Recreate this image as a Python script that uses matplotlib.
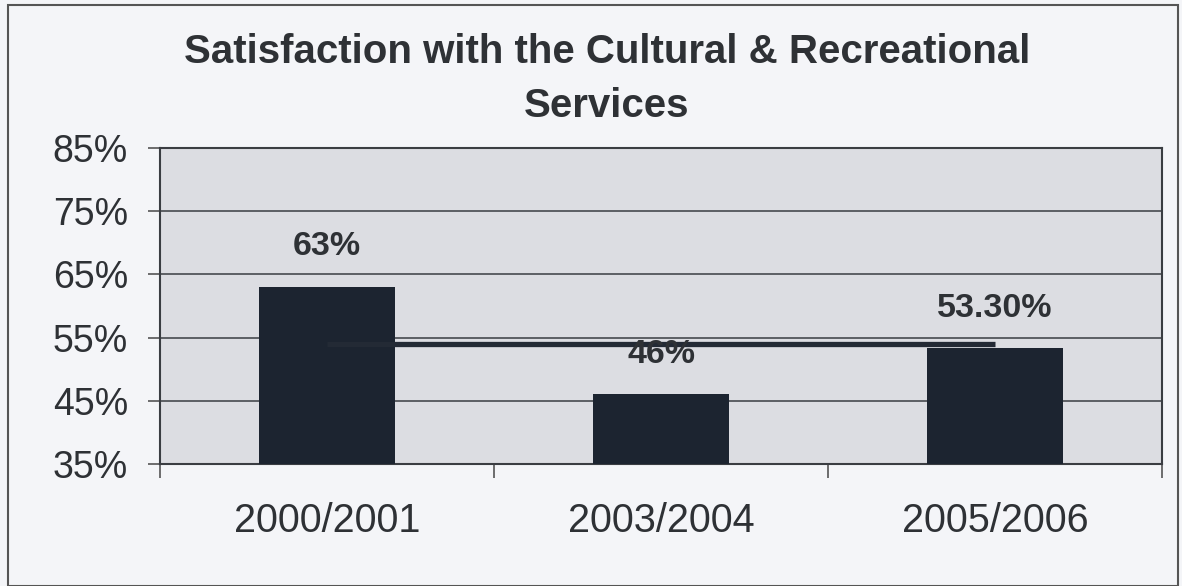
import matplotlib
matplotlib.use("Agg")
import matplotlib.pyplot as plt
from matplotlib.patches import Rectangle
from matplotlib.ticker import FixedLocator

# Données
periods = ["2000/2001", "2003/2004", "2005/2006"]
satisfaction = [63, 46, 53.3]
bar_labels = ["63%", "46%", "53.30%"]
reference_line = [54, 54, 54]
y_ticks = [35, 45, 55, 65, 75, 85]

plt.rcParams["font.family"] = ["Liberation Sans", "DejaVu Sans"]

bar_color = "#1c2430"
text_color = "#2e3135"
plot_bg = "#dcdde2"
fig_bg = "#f4f5f8"

fig = plt.figure(figsize=(11.82, 5.86), dpi=100, facecolor=fig_bg)
ax = fig.add_axes([160 / 1182, 1 - 464 / 586, 1002 / 1182, 316 / 586])
ax.set_facecolor(plot_bg)

x = list(range(len(periods)))
ax.bar(x, satisfaction, width=0.41, color=bar_color, zorder=3)
ax.plot(x, reference_line, color="#232a35", linewidth=3.8, zorder=4,
        solid_capstyle="butt")

for xi, v, lab in zip(x, satisfaction, bar_labels):
    ax.annotate(lab, (xi, v), xytext=(0, 29), textcoords="offset points",
                ha="center", va="center", fontsize=24.5, fontweight="bold",
                color=text_color, zorder=5)

ax.set_xlim(-0.5, len(periods) - 0.5)
ax.set_ylim(35, 85)
ax.set_yticks(y_ticks)
ax.set_yticklabels([f"{t}%" for t in y_ticks])
ax.yaxis.grid(True, color="#3a3d42", linewidth=1.1, zorder=1)
ax.set_axisbelow(True)

ax.set_xticks(x)
ax.set_xticklabels(periods)
ax.xaxis.set_minor_locator(FixedLocator([-0.5, 0.5, 1.5, 2.5]))
ax.tick_params(axis="x", which="major", length=0, pad=27, labelsize=28.5,
               labelcolor=text_color)
ax.tick_params(axis="x", which="minor", length=10, width=1.2, color="#555")
ax.tick_params(axis="y", length=9, width=1.2, color="#555", pad=14,
               labelsize=27, labelcolor=text_color)

for s in ax.spines.values():
    s.set_color("#3a3d42")
    s.set_linewidth(1.5)

fig.text(607 / 1182, 1 - 52 / 586, "Satisfaction with the Cultural & Recreational",
         ha="center", va="center", fontsize=29, fontweight="bold", color=text_color)
fig.text(607 / 1182, 1 - 106 / 586, "Services",
         ha="center", va="center", fontsize=29, fontweight="bold", color=text_color)

# cadre du graphique
fig.patches.append(Rectangle((8 / 1182, 0.0), 1170 / 1182, 1 - 5 / 586,
                             transform=fig.transFigure, fill=False,
                             edgecolor="#555", linewidth=1.5))

fig.savefig("out.png", dpi=100, facecolor=fig_bg)
